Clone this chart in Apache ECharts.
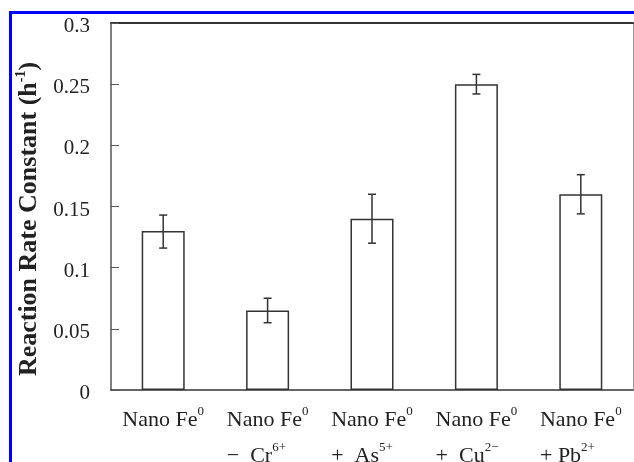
<!DOCTYPE html>
<html>
<head>
<meta charset="utf-8">
<script src="https://cdn.jsdelivr.net/npm/echarts@6/dist/echarts.min.js"></script>
<style>
    html, body { margin: 0; padding: 0; background: #fff; }
    #chart { width: 634px; height: 462px; }
</style>
</head>
<body>
<div id="chart"></div>
<script>
// 图中数据
let categories = ['Nano Fe0', 'Nano Fe0 + Cr6+', 'Nano Fe0 + As5+', 'Nano Fe0 + Cu2+', 'Nano Fe0 + Pb2+'];
let labelLines = [
    ['Nano Fe', '0', '', ''],
    ['Nano Fe', '0', '\u2212  Cr', '6+'],
    ['Nano Fe', '0', '+  As', '5+'],
    ['Nano Fe', '0', '+  Cu', '2\u2212'],
    ['Nano Fe', '0', '+ Pb', '2+']
];
let rateValues = [0.13, 0.065, 0.14, 0.25, 0.16];
let errLow = [0.116, 0.055, 0.12, 0.242, 0.144];
let errHigh = [0.143, 0.075, 0.16, 0.258, 0.176];
let yTicks = [0, 0.05, 0.1, 0.15, 0.2, 0.25, 0.3];

const serif = '"Liberation Serif", "DejaVu Serif", serif';

var myChart = echarts.init(document.getElementById('chart'));

// 误差线数据
let errData = [];
for (let i = 0; i < categories.length; i++) {
    errData.push([i, errLow[i], errHigh[i]]);
}

function labelFormatter(value, index) {
    let l = labelLines[index];
    let s = '{n|' + l[0] + '}{s|' + l[1] + '}';
    if (l[2]) {
        s += '\n{n|' + l[2] + '}{s|' + l[3] + '}';
    }
    return s;
}

var option = {
    animation: false,
    backgroundColor: '#fff',
    // 标签允许超出画布（原图下方被裁掉）
    grid: { left: 111, right: 1, top: 23, bottom: 72, outerBoundsMode: 'none' },
    // 外面的蓝框
    graphic: [
        { type: 'line', shape: { x1: 10.5, y1: 11, x2: 10.5, y2: 462 }, style: { stroke: '#0000ff', lineWidth: 3 } },
        { type: 'line', shape: { x1: 9, y1: 12.5, x2: 634, y2: 12.5 }, style: { stroke: '#0000ff', lineWidth: 3 } }
    ],
    xAxis: [
        {
            type: 'category',
            data: categories,
            axisLine: { lineStyle: { color: '#333', width: 1.5 } },
            axisTick: { inside: true, length: 9, lineStyle: { color: '#444' } },
            axisLabel: {
                interval: 0,
                margin: 12,
                hideOverlap: false,
                formatter: labelFormatter,
                rich: {
                    n: { fontFamily: serif, fontSize: 22, color: '#222', lineHeight: 36, align: 'left' },
                    s: { fontFamily: serif, fontSize: 13, color: '#222', padding: [3, 0, 0, 0], verticalAlign: 'top', align: 'left' }
                }
            }
        },
        {
            // 顶部的粗线
            type: 'category',
            position: 'top',
            data: categories,
            axisLine: { onZero: false, lineStyle: { color: '#333', width: 2 } },
            axisTick: { show: false },
            axisLabel: { show: false }
        }
    ],
    yAxis: [
        {
            type: 'value',
            min: 0,
            max: 0.3,
            interval: 0.05,
            name: '{t|Reaction Rate Constant (h}{u|-1}{t|)}',
            nameLocation: 'middle',
            nameGap: 67,
            nameRotate: 90,
            nameTextStyle: {
                padding: [0, 25, 0, 0],
                rich: {
                    t: { fontFamily: serif, fontSize: 26, fontWeight: 'bold', color: '#222', lineHeight: 30 },
                    u: { fontFamily: serif, fontSize: 14, fontWeight: 'bold', color: '#222', lineHeight: 16, verticalAlign: 'top' }
                }
            },
            splitLine: { show: false },
            axisLine: { show: true, lineStyle: { color: '#555', width: 1.5 } },
            axisTick: { show: true, inside: true, length: 8, lineStyle: { color: '#555' } },
            axisLabel: {
                margin: 21,
                fontFamily: serif,
                fontSize: 21,
                color: '#222',
                verticalAlign: 'top',
                lineHeight: 7,
                formatter: function (v) { return String(yTicks[Math.round(v / 0.05)]); }
            }
        },
        {
            // 右边的细线
            type: 'value',
            position: 'right',
            min: 0,
            max: 0.3,
            interval: 0.05,
            splitLine: { show: false },
            axisLine: { show: true, onZero: false, lineStyle: { color: '#999', width: 1 } },
            axisTick: { show: false },
            axisLabel: { show: false }
        }
    ],
    series: [
        {
            type: 'bar',
            data: rateValues,
            barWidth: 43,
            itemStyle: { color: '#fff', borderColor: '#333', borderWidth: 1.5 }
        },
        {
            type: 'custom',
            data: errData,
            z: 10,
            renderItem: function (params, api) {
                let lo = api.coord([api.value(0), api.value(1)]);
                let hi = api.coord([api.value(0), api.value(2)]);
                let half = 4;
                let st = { stroke: '#333', lineWidth: 1.5 };
                return {
                    type: 'group',
                    children: [
                        { type: 'line', shape: { x1: hi[0], y1: hi[1], x2: lo[0], y2: lo[1] }, style: st },
                        { type: 'line', shape: { x1: hi[0] - half, y1: hi[1], x2: hi[0] + half, y2: hi[1] }, style: st },
                        { type: 'line', shape: { x1: lo[0] - half, y1: lo[1], x2: lo[0] + half, y2: lo[1] }, style: st }
                    ]
                };
            }
        }
    ]
};

myChart.setOption(option);
</script>
</body>
</html>
